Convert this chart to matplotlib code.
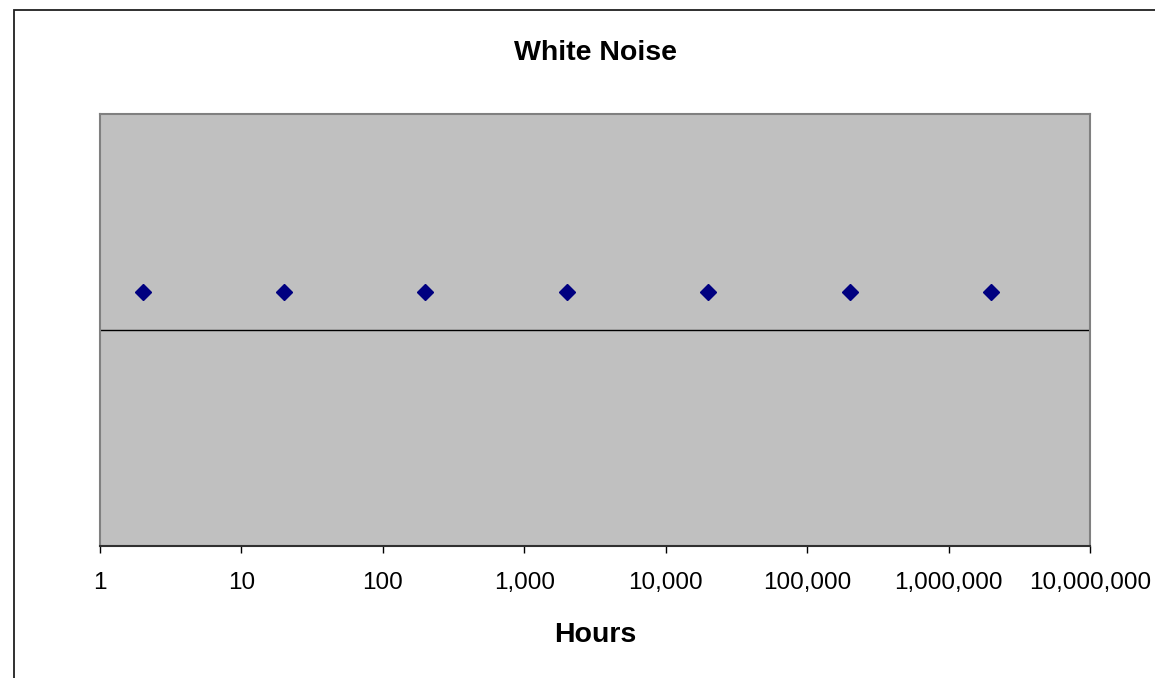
import matplotlib
matplotlib.use("Agg")
import matplotlib.pyplot as plt
from matplotlib.patches import Rectangle
from matplotlib.ticker import FixedLocator, FuncFormatter, NullLocator

plt.rcParams['font.family'] = ['Liberation Sans', 'DejaVu Sans']

# data
hours = [2, 20, 200, 2000, 20000, 200000, 2000000]
noise = [0.175, 0.175, 0.175, 0.175, 0.175, 0.175, 0.175]
tick_hours = [1, 10, 100, 1000, 10000, 100000, 1000000, 10000000]

fig = plt.figure(figsize=(11.55, 6.78), dpi=100)

# outer chart border (right/bottom edges run off the image)
fig.patches.append(Rectangle((14 / 1155, -0.1), 1.2, 1.1 - 10 / 678,
                             transform=fig.transFigure, fill=False,
                             edgecolor='#202020', linewidth=1.3))

ax = fig.add_axes([100 / 1155, 132 / 678, 990 / 1155, 432 / 678])
ax.set_facecolor('#C0C0C0')

ax.axhline(0, color='black', linewidth=1.0, zorder=1)
ax.plot(hours, noise, linestyle='none', marker='D', markersize=8,
        color='#000080', zorder=3)

ax.set_xscale('log')
ax.set_xlim(1, 1e7)
ax.set_ylim(-1, 1)
ax.xaxis.set_major_locator(FixedLocator(tick_hours))
ax.xaxis.set_minor_locator(NullLocator())
ax.xaxis.set_major_formatter(FuncFormatter(lambda v, p: f'{int(round(v)):,}'))
ax.set_yticks([])

ax.tick_params(axis='x', direction='out', length=5, width=1, color='black',
               labelsize=17.5, pad=14)

for side in ('left', 'top', 'right'):
    ax.spines[side].set_color('#808080')
    ax.spines[side].set_linewidth(1.5)
ax.spines['bottom'].set_color('#303030')
ax.spines['bottom'].set_linewidth(1.5)

fig.text(595 / 1155, 1 - 53 / 678, 'White Noise', ha='center', va='center',
         fontsize=20.5, fontweight='bold')
fig.text(595 / 1155, 1 - 635 / 678, 'Hours', ha='center', va='center',
         fontsize=20.5, fontweight='bold')

fig.savefig('out.png', dpi=100)
